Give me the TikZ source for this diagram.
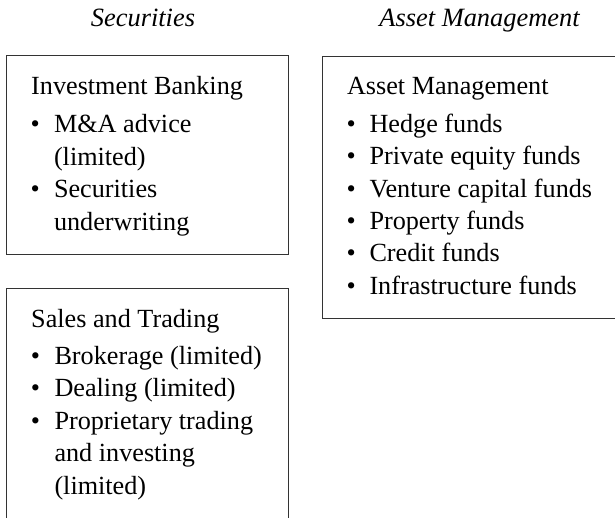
\documentclass[tikz,border=0pt]{standalone}
\usepackage{fontspec}
\setmainfont{Liberation Serif}
\begin{document}
\begin{tikzpicture}[x=1pt,y=-1pt,
  frame/.style={draw=black!80, line width=1pt, inner sep=0pt, outer sep=0pt, anchor=north west},
  txt/.style={anchor=base west, inner sep=0pt, outer sep=0pt, font=\fontsize{26.2}{32.4}\selectfont},
  ttl/.style={anchor=base, inner sep=0pt, outer sep=0pt, font=\fontsize{26.4}{32.4}\selectfont\itshape}]
\useasboundingbox (0,0) rectangle (615,518);

% column titles
\node[ttl] (tsec) at (143,26.7) {Securities};
\node[ttl] (tam) at (479.5,26.7) {Asset Management};

% frames
\node[frame, minimum width=281.3pt, minimum height=199pt] (ib) at (6.7,56) {};
\node[frame, minimum width=281.3pt, minimum height=260pt] (st) at (6.7,289) {};
\node[frame, minimum width=330pt, minimum height=261.3pt] (am) at (322.3,57) {};

% Investment Banking
\node[txt] (ibh) at (31.2,95) {Investment Banking};
\node[txt] (ibb1) at (30.7,133) {•};
\node[txt] (ib1) at (54,133) {M\&A advice};
\node[txt] (ib1b) at (54,165.4) {(limited)};
\node[txt] (ibb2) at (30.7,197.8) {•};
\node[txt] (ib2) at (54,197.8) {Securities};
\node[txt] (ib2b) at (54,230.2) {underwriting};

% Sales and Trading
\node[txt] (sth) at (31.2,327) {Sales and Trading};
\node[txt] (stb1) at (30.9,364.5) {•};
\node[txt] (st1) at (54.5,364.5) {Brokerage (limited)};
\node[txt] (stb2) at (30.9,396.9) {•};
\node[txt] (st2) at (54.5,396.9) {Dealing (limited)};
\node[txt] (stb3) at (30.9,429.3) {•};
\node[txt] (st3) at (54.5,429.3) {Proprietary trading};
\node[txt] (st3b) at (54.5,461.7) {and investing};
\node[txt] (st3c) at (54.5,494.1) {(limited)};

% Asset Management
\node[txt] (amh) at (347,95) {Asset Management};
\node[txt] (amb1) at (346.7,132.7) {•};
\node[txt] (am1) at (369.5,132.7) {Hedge funds};
\node[txt] (amb2) at (346.7,165) {•};
\node[txt] (am2) at (369.5,165) {Private equity funds};
\node[txt] (amb3) at (346.7,197.3) {•};
\node[txt] (am3) at (369.5,197.3) {Venture capital funds};
\node[txt] (amb4) at (346.7,229.6) {•};
\node[txt] (am4) at (369.5,229.6) {Property funds};
\node[txt] (amb5) at (346.7,262) {•};
\node[txt] (am5) at (369.5,262) {Credit funds};
\node[txt] (amb6) at (346.7,294.3) {•};
\node[txt] (am6) at (369.5,294.3) {Infrastructure funds};
\end{tikzpicture}
\end{document}
